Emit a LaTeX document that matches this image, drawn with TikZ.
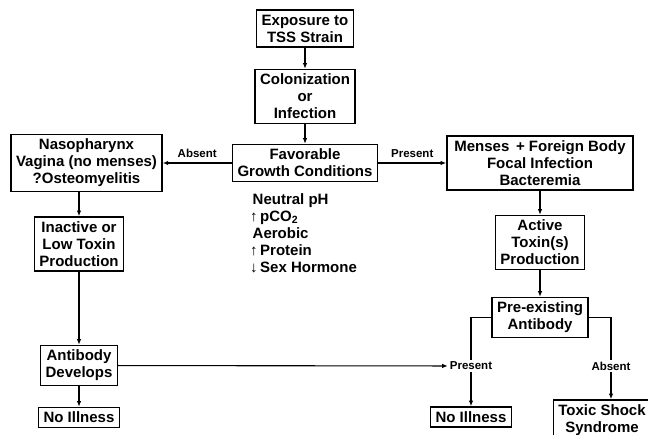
\documentclass[tikz,border=0pt]{standalone}
\usepackage{fontspec}
\setmainfont{Liberation Sans}
\usetikzlibrary{arrows.meta}

\begin{document}
\begin{tikzpicture}[x=1pt,y=-1pt,
  my box/.style={draw,line width=1.6pt,align=center,inner xsep=5pt,inner ysep=4.5pt,
    font=\bfseries\fontsize{15}{17}\selectfont},
  my label/.style={font=\bfseries\fontsize{11.5}{12}\selectfont,inner sep=2pt},
  my arrow/.style={->,line width=1.1pt},
  >={Latex[length=5.5pt,width=4.5pt]}]
  \clip (0,0) rectangle (648,435);
  % NODES
  \node[my box] (expo) at (305,28.5) {Exposure to\\TSS Strain};
  \node[my box] (colon) [below of=expo,node distance=68pt] {Colonization\\or\\Infection};
  \node[my box] (favor) [below of=colon,node distance=66.5pt] {Favorable\\Growth Conditions};
  \node[my box] (naso) [left of=favor,node distance=218.5pt] {Nasopharynx\\Vagina (no menses)\\?Osteomyelitis};
  \node[my box,minimum width=186pt] (menses) [right of=favor,node distance=235pt] {Menses \,+ Foreign Body\\Focal Infection\\Bacteremia};
  \node[anchor=north west,inner sep=0pt,align=left,font=\bfseries\fontsize{15}{17}\selectfont] (cond) at (250,193)
    {\,Neutral pH\\{\fontsize{15}{10}\selectfont↑}\,pCO\textsubscript{2}\\\,Aerobic\\{\fontsize{15}{10}\selectfont↑}\,Protein\\{\fontsize{15}{10}\selectfont↓}\,Sex Hormone};
  \node[my box] (inactive) at (79,244) {Inactive or\\Low Toxin\\Production};
  \node[my box] (antibody) [below of=inactive,node distance=121.5pt] {Antibody\\Develops};
  \node[my box] (noill1) [below of=antibody,node distance=52pt] {No Illness};
  \node[my box] (active) [below of=menses,node distance=79.5pt] {Active\\Toxin(s)\\Production};
  \node[my box] (preex) [below of=active,node distance=75pt] {Pre-existing\\Antibody};
  \node[my label] (pres) at (471,366) {Present};
  \node[my label] (abs2) at (611,366) {Absent};
  \node[my box] (noill2) at (471,417) {No Illness};
  \node[my box] (toxic) at (602,420) {Toxic Shock\\Syndrome};
  % PATHS
  \path[my arrow]
   (expo) edge (colon)
   (colon) edge (favor)
   (favor) edge node[my label,above=3pt] {Absent} (naso)
           edge node[my label,above=3pt] {Present} (menses)
   (menses) edge (active)
   (active) edge (preex)
   (inactive) edge (antibody)
   (antibody) edge (noill1)
              edge (pres)
   (pres) edge (noill2);
  \draw[my arrow] (naso.south -| inactive) -- (inactive.north);
  \draw[line width=1.1pt] (preex.west) -| (pres.north);
  \draw[line width=1.1pt] (preex.east) -| (abs2.north);
  \draw[my arrow] (abs2.south) -- (abs2.south |- toxic.north);
\end{tikzpicture}
\end{document}
